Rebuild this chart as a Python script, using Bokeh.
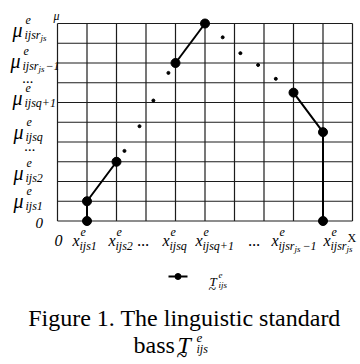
from bokeh.plotting import figure
from bokeh.models import Range1d
from bokeh.core.properties import value
from bokeh.embed import file_html
from bokeh.resources import INLINE

# ---------------- data ----------------
grid_x = [0, 1, 2, 3, 4, 5, 6, 7, 8, 9, 10]
grid_y = [0, 1, 2, 3, 4, 5, 6, 7, 8, 9, 10]

seg1_x = [1, 1, 2]
seg1_y = [0, 1, 3]
dots1_x = [2.27, 2.78, 3.25, 3.76]
dots1_y = [3.55, 4.8, 6.1, 7.5]
seg2_x = [4, 5]
seg2_y = [8, 10]
dots2_x = [5.6, 6.2, 6.8, 7.4]
dots2_y = [9.3, 8.5, 7.9, 7.2]
seg3_x = [8, 9, 9]
seg3_y = [6.5, 4.5, 0]

y_tick_main = ["μ", "μ", "...", "μ", "μ", "...", "μ", "μ", "0"]
y_tick_sup = ["e", "e", "", "e", "e", "", "e", "e", ""]
y_tick_sub = ["ijsr", "ijsr", "", "ijsq+1", "ijsq", "", "ijs2", "ijs1", ""]
y_tick_subsub = ["js", "js", "", "", "", "", "", "", ""]
y_tick_tail = ["", "−1", "", "", "", "", "", "", ""]

x_tick_main = ["0", "x", "x", "...", "x", "x", "...", "x", "x"]
x_tick_sup = ["", "e", "e", "", "e", "e", "", "e", "e"]
x_tick_sub = ["", "ijs1", "ijs2", "", "ijsq", "ijsq+1", "", "ijsr", "ijsr"]
x_tick_subsub = ["", "", "", "", "", "", "", "js", "js"]
x_tick_tail = ["", "", "", "", "", "", "", "−1", ""]

legend_main = "T"
legend_sup = "e"
legend_sub = "ijs"
caption_line1 = "Figure 1. The linguistic standard"
caption_line2 = "bass"

# ---------------- layout ----------------
FONT = "Liberation Serif"
W, H = 360, 364
X0, UX = 57.0, 29.5      # picture px of x=0, px per unit
Y0, UY = 220.5, 19.75    # picture px of y=0, px per unit


def X(px):
    return (px - X0) / UX


def Y(py):
    return (Y0 - py) / UY


p = figure(width=W, height=H, output_backend="svg", toolbar_location=None,
           x_range=Range1d(X(0), X(W)), y_range=Range1d(Y(H), Y(0)),
           min_border=0, min_border_left=0, min_border_right=0,
           min_border_top=0, min_border_bottom=0)
p.axis.visible = False
p.xgrid.visible = False
p.ygrid.visible = False
p.outline_line_color = None
p.background_fill_color = "white"
p.border_fill_color = "white"


def txt(px, py, s, size, style="italic", align="left"):
    if not s:
        return
    p.text(x=[X(px)], y=[Y(py)], text=[s], text_font=value(FONT),
           text_font_size=f"{size}px", text_font_style=style,
           text_align=align, text_baseline="alphabetic", text_color="black")


# grid
GRID_COLOR = "#1c1c1c"
p.segment(x0=grid_x, y0=[grid_y[0]] * len(grid_x), x1=grid_x,
          y1=[grid_y[-1]] * len(grid_x), line_color=GRID_COLOR, line_width=1.2)
p.segment(x0=[grid_x[0]] * len(grid_y), y0=grid_y, x1=[grid_x[-1]] * len(grid_y),
          y1=grid_y, line_color=GRID_COLOR, line_width=1.2)

# series
for sx, sy in ((seg1_x, seg1_y), (seg2_x, seg2_y), (seg3_x, seg3_y)):
    p.line(sx, sy, line_color="black", line_width=2)
    p.scatter(sx, sy, size=9, fill_color="black", line_color="black")
p.scatter(dots1_x + dots2_x, dots1_y + dots2_y, size=3,
          fill_color="black", line_color="black")

# y tick labels
y_left = [12, 10, 22, 12, 13, 24, 13, 13, 35]
y_base = [29, 60, 77, 97, 131, 145, 172, 200, 222]
for i in range(len(y_tick_main)):
    L, B = y_left[i], y_base[i]
    size = 20 if y_tick_main[i] == "μ" else 15
    txt(L, B, y_tick_main[i], size)
    txt(L + 13, B - 10, y_tick_sup[i], 12)
    txt(L + 12, B + 5, y_tick_sub[i], 12)
    txt(L + 28, B + 8, y_tick_subsub[i], 9)
    txt(L + 35, B + 5, y_tick_tail[i], 12)

# x tick labels
x_left = [54, 72, 108, 137, 162, 195, 248, 271, 323]
X_BASE = 240
for i in range(len(x_tick_main)):
    L = x_left[i]
    txt(L, X_BASE, x_tick_main[i], 16)
    txt(L + 8, X_BASE - 9, x_tick_sup[i], 12)
    txt(L + 7, X_BASE + 5, x_tick_sub[i], 12)
    txt(L + 23, X_BASE + 8, x_tick_subsub[i], 9)
    txt(L + 31, X_BASE + 5, x_tick_tail[i], 12)

# axis names
txt(53, 15, "μ", 12)
txt(347, 237, "X", 12, style="normal")

# legend
p.line([X(168), X(187)], [Y(276), Y(276)], line_color="black", line_width=2)
p.scatter([X(177.5)], [Y(276)], size=6, fill_color="black", line_color="black")
txt(209, 281, legend_main, 13)
txt(208, 289, "~", 14, style="normal")
txt(218, 274, legend_sup, 9)
txt(218, 284, legend_sub, 9)

# caption
txt(184, 317, caption_line1, 24, style="normal", align="center")
txt(133, 344, caption_line2, 24, style="normal")
txt(177, 344, legend_main, 24)
txt(176, 354, "~", 20, style="normal")
txt(196, 337, legend_sup, 13)
txt(196, 348, legend_sub, 12)

open("out.html", "w").write(file_html(p, INLINE))
